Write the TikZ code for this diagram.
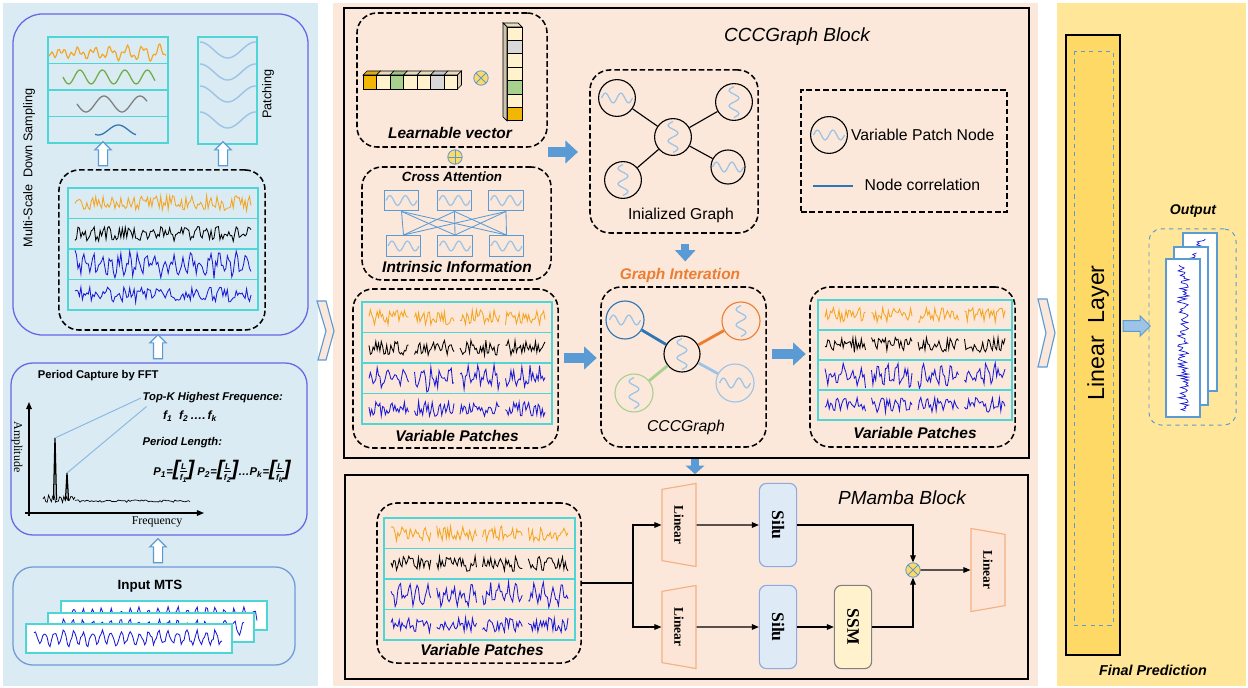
\documentclass[tikz,border=0pt]{standalone}
\usepackage{fontspec}
\setmainfont{Liberation Sans}
\newfontfamily\timesrm{Liberation Serif}
\usetikzlibrary{positioning,arrows.meta,shapes.geometric,shapes.arrows}

\definecolor{leftbg}{HTML}{DAEBF3}
\definecolor{midbg}{HTML}{FBE8DB}
\definecolor{rightbg}{HTML}{FFE699}
\definecolor{layergold}{HTML}{FFD966}
\definecolor{cellgold}{HTML}{F2B705}
\definecolor{cellcream}{HTML}{FFF2CC}
\definecolor{cellgreen}{HTML}{A9D18E}
\definecolor{cellgray}{HTML}{D9D9D9}
\definecolor{arrowblue}{HTML}{5B9BD5}
\definecolor{framecyan}{HTML}{4ED6D6}
\definecolor{boxviolet}{HTML}{6666E6}
\definecolor{boxblue}{HTML}{6F9BD8}
\definecolor{edgeblue}{HTML}{2E75B6}
\definecolor{edgeorange}{HTML}{ED7D31}
\definecolor{edgegreen}{HTML}{A9D18E}
\definecolor{edgelight}{HTML}{9DC3E6}
\definecolor{sigorange}{HTML}{F5A41F}
\definecolor{sigblue}{HTML}{1A1AD6}
\definecolor{sigdown}{HTML}{2E75B6}
\definecolor{siggreen}{HTML}{70AD47}
\definecolor{siggray}{HTML}{7F7F7F}
\definecolor{silufill}{HTML}{DEEBF7}
\definecolor{siluedge}{HTML}{8FAADC}
\definecolor{ssmfill}{HTML}{FFF2CC}
\definecolor{linedge}{HTML}{F4B183}
\definecolor{linfill}{HTML}{FCE4D6}

% stack of four signal rows: x0, y0, x1, y1, patches per row
\newcommand{\sigstack}[5]{%
  \pgfmathsetmacro{\rh}{(#4-#2)/4}%
  \pgfmathsetmacro{\sw}{(#3-#1-8)/#5}%
  \pgfmathtruncatemacro{\ns}{120/#5}%
  \foreach \rw/\col/\kind in {0/sigorange/0,1/black/0,2/sigblue/1,3/sigblue/0}{%
    \draw[rowbox] (#1,{#2+\rw*\rh}) rectangle (#3,{#2+(\rw+1)*\rh});
    \pgfmathsetmacro{\ym}{#2+(\rw+0.5)*\rh}%
    \foreach \s in {1,...,#5}{%
      \pgfmathsetmacro{\sa}{#1+4+(\s-1)*\sw+3}%
      \pgfmathsetmacro{\sb}{#1+4+\s*\sw-3}%
      \draw[\col, line width=0.6pt] plot[domain=\sa:\sb, samples=\ns] (\x,{\ym+0.25*\rh*(0.9*\kind*sin((\x-#1)*40)+rand)});
    }%
  }%
}
% bracketed fraction L / f_i
\newcommand{\brfrac}[1]{{\fontsize{15}{15}\selectfont[}\begin{tabular}{@{}c@{}}\fontsize{6}{6}\selectfont L\\[-2pt]\hline\fontsize{6}{7}\selectfont f\textsubscript{#1}\end{tabular}{\fontsize{15}{15}\selectfont]}}

\tikzset{
  dashbox/.style={draw, line width=1.1pt, dash pattern=on 4pt off 2pt, rounded corners=0.5cm, inner sep=0pt},
  softbox/.style={draw=boxviolet, line width=0.9pt, rounded corners=0.75cm, inner sep=0pt},
  rowbox/.style={draw=framecyan, line width=0.8pt},
  blocktitle/.style={font=\fontsize{13.5}{15}\selectfont\itshape},
  tag/.style={font=\fontsize{11}{13}\selectfont\bfseries\itshape, inner sep=1pt},
  fftlbl/.style={font=\fontsize{8}{9}\selectfont\bfseries\itshape, inner sep=1pt},
  plain/.style={font=\fontsize{11.2}{13}\selectfont, inner sep=1pt},
  fatarrow/.style={draw=arrowblue, line width=7pt, -{Triangle[length=9pt,width=16pt]}},
  hollowup/.style={single arrow, draw=arrowblue, fill=white, line width=0.8pt, rotate=90,
    minimum height=0.6cm, minimum width=0pt, inner xsep=0pt, inner ysep=0.1cm, single arrow head extend=0.09cm},
  hwave/.style={path picture={\draw[edgelight, line width=0.9pt, shift={(path picture bounding box.center)}]
    plot[domain=-1:1, samples=25, smooth] ({11pt*\x},{3.5pt*sin(\x*360)});}},
  vwave/.style={path picture={\draw[edgelight, line width=0.9pt, shift={(path picture bounding box.center)}]
    plot[domain=-1:1, samples=25, smooth] ({3.5pt*sin(\x*360)},{11pt*\x});}},
  gnode/.style={circle, draw, line width=0.8pt, minimum size=0.92cm, inner sep=0pt},
  cabox/.style={draw=arrowblue, line width=0.8pt, minimum width=0.86cm, minimum height=0.52cm, inner sep=0pt, hwave},
  oper/.style={circle, draw=arrowblue, fill=layergold, line width=0.6pt, minimum size=0.36cm, inner sep=0pt},
  otimes/.style={oper, path picture={\draw[arrowblue, line width=0.6pt]
    (path picture bounding box.north west) -- (path picture bounding box.south east)
    (path picture bounding box.north east) -- (path picture bounding box.south west);}},
  oplus/.style={oper, path picture={\draw[arrowblue, line width=0.6pt]
    (path picture bounding box.north) -- (path picture bounding box.south)
    (path picture bounding box.west) -- (path picture bounding box.east);}},
  linear/.style={trapezium, trapezium stretches=true, draw=linedge, fill=linfill, line width=0.8pt,
    trapezium left angle=78, trapezium right angle=78, minimum width=2.08cm, minimum height=0.85cm,
    rotate=-90, font=\timesrm\bfseries\fontsize{9.5}{10}\selectfont},
  unit/.style={rounded corners=5pt, line width=0.8pt, minimum width=2.08cm, minimum height=0.93cm,
    rotate=-90, font=\timesrm\bfseries\fontsize{12.5}{13}\selectfont},
  flow/.style={-{Triangle[length=5pt,width=4pt]}, line width=0.8pt},
}

\begin{document}
\begin{tikzpicture}[x=0.025cm, y=-0.025cm]
\pgfmathsetseed{11}
\useasboundingbox (0,0) rectangle (1248,688);

% panels
\fill[leftbg] (3,3) rectangle (318,686);
\fill[midbg] (333,3) rectangle (1038,686);
\fill[rightbg] (1057,3) rectangle (1246,686);

% ---------------- left panel ----------------
\node[softbox, minimum width=7.375cm, minimum height=8.025cm] (ms) at (160.5,174.5) {};
\node[softbox, rounded corners=0.55cm, minimum width=7.4cm, minimum height=4.3cm] (fft) at (159,449) {};
\node[softbox, draw=boxblue, rounded corners=0.5cm, minimum width=7.05cm, minimum height=2.45cm] (inp) at (154,616) {};

\node[plain, rotate=90, font=\fontsize{9}{10}\selectfont] (mslbl) at (29,168) {Multi-Scale\ \ Down Sampling};

% down-sampled scales
\foreach \rw in {0,...,3}
  \draw[rowbox] (48,{37+\rw*26.5}) rectangle (168,{37+(\rw+1)*26.5});
\draw[sigorange, line width=0.8pt] plot[domain=49:166, samples=80, smooth] (\x,{53+(2+0.04*(\x-49))*sin(\x*22)-3*sin(\x*57)});
\draw[siggreen, line width=0.9pt] plot[domain=63:155, samples=60, smooth] (\x,{77+7*sin((\x-63)*16)});
\draw[siggray, line width=0.9pt] plot[domain=77:147, samples=50, smooth] (\x,{104+8*sin((\x-77)*10)});
\draw[sigdown, line width=0.9pt] plot[domain=95:136, samples=30, smooth] (\x,{130+5*sin((\x-95)*9+60)});

% patching
\draw[rowbox] (198,37) rectangle (257,144);
\foreach \yo in {50,72,94,120}
  \draw[edgelight, line width=1pt] plot[domain=200:256, samples=40, smooth] (\x,{\yo+8*sin((\x-200)*6.5-90)});
\node[plain, rotate=90, font=\fontsize{9}{10}\selectfont] (patlbl) at (268,94) {Patching};

\node[hollowup] (up1) at (103,156) {};
\node[hollowup] (up2) at (223,156) {};

\node[dashbox, minimum width=5.15cm, minimum height=4cm] (msd) at (162,250) {};
\sigstack{68}{188}{258}{310}{1}

% FFT
\node[font=\fontsize{8}{9}\selectfont\bfseries, anchor=west] (fftt) at (33,376) {Period Capture by FFT};
\draw[-{Triangle[length=5pt,width=4pt]}, line width=0.8pt] (25,513) -- (204,513);
\draw[-{Triangle[length=5pt,width=4pt]}, line width=0.8pt] (29,516) -- (29,402);
\node[rotate=-90, font=\timesrm\fontsize{8.5}{10}\selectfont] (amp) at (17,447) {Amplitude};
\node[font=\timesrm\fontsize{8.5}{10}\selectfont] (freq) at (157,522) {Frequency};
\draw[line width=0.5pt] plot[domain=43:75, samples=24] (\x,{499+4*rand});
\draw[line width=0.5pt] plot[domain=75:190, samples=70] (\x,{501+1.2*rand});
\coordinate (pk1) at (55,438);
\coordinate (pk2) at (67,473);
\draw[line width=0.9pt] (53.5,500) -- (pk1) -- (56.5,500);
\draw[line width=0.9pt] (65.5,500) -- (pk2) -- (68.5,500);
\node[fftlbl, anchor=west] (topk) at (141,398) {Top-K Highest Frequence:};
\node[fftlbl, font=\fontsize{8.5}{9}\selectfont\bfseries\itshape] (fks) at (190,416) {f\textsubscript{1}\ \ f\textsubscript{2}\,\ldots.\,f\textsubscript{k}};
\node[fftlbl, anchor=west] (plen) at (141,443) {Period Length:};
\node[fftlbl] (plf) at (222,472) {P\textsubscript{1}=\brfrac{1}\ P\textsubscript{2}=\brfrac{2}\ldots P\textsubscript{k}=\brfrac{k}};
\draw[arrowblue!70, line width=0.7pt] (pk1) -- (topk.west);
\draw[arrowblue!70, line width=0.7pt] (pk2) -- ([xshift=4pt,yshift=-6pt]topk.west);

\node[hollowup] (up3) at (158,349) {};
\node[hollowup] (up4) at (158,553) {};

% input MTS
\node[font=\fontsize{9.5}{11}\selectfont\bfseries] (inpt) at (150,586) {Input MTS};
\foreach \xa/\ya in {61/601, 48/613, 26/624} {
  \draw[framecyan, fill=white, line width=0.8pt] (\xa,\ya) rectangle ++(206,29);
  \pgfmathsetmacro{\sa}{\xa+8}
  \pgfmathsetmacro{\sb}{\xa+196}
  \draw[sigblue, line width=0.6pt] plot[domain=\sa:\sb, samples=130] (\x,{\ya+14+6*sin(\x*38)+3*rand});
}

% chevrons between panels
\draw[arrowblue, fill=midbg, line width=0.8pt] (317,301) -- (326,301) -- (334,331) -- (326,360) -- (318,360) -- (326,331) -- cycle;
\draw[arrowblue, fill=midbg, line width=0.8pt] (1038,299) -- (1047,299) -- (1055,333) -- (1047,367) -- (1038,367) -- (1046,333) -- cycle;

% ---------------- CCCGraph block ----------------
\node[draw, line width=1.2pt, minimum width=17.125cm, minimum height=11.25cm, inner sep=0pt] (ccc) at (686.5,233) {};
\node[blocktitle] (ccct) at (797,37) {CCCGraph Block};

% learnable vector
\node[dashbox, minimum width=4.75cm, minimum height=3.35cm] (lv) at (452,80) {};
\foreach \c [count=\i from 0] in {cellgold,cellcream,cellgreen,cellcream,cellcream,cellgray,cellcream} {
  \pgfmathsetmacro{\cx}{363+13.5*\i}
  \draw[fill=\c, line width=0.5pt] (\cx,75) rectangle ++(13.5,14);
  \draw[fill=\c!80!gray, line width=0.5pt] (\cx,75) -- ++(4,-4) -- ++(13.5,0) -- ++(-4,4) -- cycle;
}
\draw[fill=cellcream!70!gray, line width=0.5pt] (457.5,75) -- ++(4,-4) -- ++(0,14) -- ++(-4,4) -- cycle;
\foreach \c [count=\i from 0] in {cellcream,cellgray,cellcream,cellcream,cellgreen,cellcream,cellgold} {
  \pgfmathsetmacro{\cy}{27+13.4*\i}
  \draw[fill=\c, line width=0.5pt] (507,\cy) rectangle ++(15,13.4);
}
\draw[fill=cellcream!80!gray, line width=0.5pt] (507,27) -- ++(-4,-4) -- ++(15,0) -- ++(4,4) -- cycle;
\draw[fill=cellcream!60!gray, line width=0.5pt] (507,27) -- ++(-4,-4) -- ++(0,94) -- ++(4,4) -- cycle;
\node[otimes] (mul) at (481,78) {};
\node[tag] (lvt) at (450,133) {Learnable vector};
\node[oplus] (add) at (455,157) {};

% intrinsic information
\node[dashbox, minimum width=4.725cm, minimum height=2.825cm] (ii) at (456.5,223.5) {};
\node[tag, font=\fontsize{9.5}{11}\selectfont\bfseries\itshape] (cat) at (452,177) {Cross Attention};
\foreach \n/\xc in {1/401.5, 2/454.5, 3/506}
  \node[cabox] (qa\n) at (\xc,200.5) {};
\foreach \n/\xc in {1/403.5, 2/455, 3/506.5}
  \node[cabox] (kb\n) at (\xc,246) {};
\foreach \i in {1,2,3}
  \foreach \j in {1,2,3}
    \draw[arrowblue, line width=0.6pt] (qa\i.south) -- (kb\j.north);
\node[tag] (iit) at (457,267) {Intrinsic Information};

% initialized graph
\node[dashbox, minimum width=4.2cm, minimum height=4.075cm] (ig) at (674,151.5) {};
\coordinate (fa1) at (0,152);
\draw[fatarrow, shorten >=8pt] (lv.east |- fa1) -- (ig.west |- fa1);
\node[gnode, vwave] (c0) at (673,137) {};
\node[gnode, hwave] (n1) at (617,98) {};
\node[gnode, vwave] (n2) at (734,102) {};
\node[gnode, vwave] (n3) at (623,180) {};
\node[gnode, hwave, minimum size=0.85cm] (n4) at (728,167) {};
\foreach \n in {n1,n2,n3,n4}
  \draw[line width=0.8pt] (c0) -- (\n);
\node[plain] (igt) at (681,215) {Inialized Graph};

% legend
\node[draw, line width=1.1pt, dash pattern=on 4pt off 2pt, minimum width=5.15cm, minimum height=3.05cm] (leg) at (904,151) {};
\node[gnode, hwave] (legn) at (829,135) {};
\node[plain, right=1pt of legn] (legnt) {Variable Patch Node};
\coordinate (lga) at (813,186);
\coordinate (lgb) at (853,186);
\draw[edgeblue, line width=1.6pt] (lga) -- (lgb);
\node[plain, anchor=west] (legct) at (863,185) {Node correlation};

% graph interaction
\node[tag, text=edgeorange] (git) at (680,276) {Graph Interation};
\draw[fatarrow, line width=6pt, -{Triangle[length=8pt,width=14pt]}, shorten <=7pt, shorten >=4pt]
  ([xshift=8pt]ig.south) -- ([xshift=8pt]ig.south |- git.north);

\node[dashbox, minimum width=5.125cm, minimum height=3.975cm] (vp1) at (455.5,368.5) {};
\sigstack{362}{302}{552}{424}{4}
\node[tag] (vp1t) at (457,436) {Variable Patches};

\node[dashbox, minimum width=4.125cm, minimum height=4cm] (gi) at (683.5,367) {};
\node[gnode, vwave, minimum size=0.9cm] (gc) at (682,354) {};
\node[gnode, hwave, draw=edgeblue, minimum size=0.95cm] (g1) at (625,320) {};
\node[gnode, vwave, draw=edgeorange, minimum size=0.95cm] (g2) at (741,321) {};
\node[gnode, vwave, draw=edgegreen, minimum size=0.95cm] (g3) at (634,393) {};
\node[gnode, hwave, draw=edgelight, minimum size=0.95cm] (g4) at (735,383) {};
\draw[edgeblue, line width=2pt] (gc) -- (g1);
\draw[edgeorange, line width=2pt] (gc) -- (g2);
\draw[edgegreen, line width=2pt] (gc) -- (g3);
\draw[edgelight, line width=2pt] (gc) -- (g4);
\node[plain, font=\fontsize{11.2}{13}\selectfont\itshape] (gt) at (686,427) {CCCGraph};

\node[dashbox, minimum width=5.125cm, minimum height=4cm] (vp2) at (912.5,367) {};
\sigstack{818}{300}{1012}{420}{4}
\node[tag] (vp2t) at (915,433) {Variable Patches};

\coordinate (ar1) at (0,358);
\coordinate (ar2) at (0,354);
\draw[fatarrow, shorten <=3.5pt, shorten >=2.5pt] (vp1.east |- ar1) -- (gi.west |- ar1);
\draw[fatarrow, shorten <=3.5pt, shorten >=2.5pt] (gi.east |- ar2) -- (vp2.west |- ar2);

% ---------------- PMamba block ----------------
\node[draw, line width=1.2pt, minimum width=17.075cm, minimum height=5.1cm, inner sep=0pt] (pm) at (686.5,577) {};
\coordinate (ar3) at (695,0);
\draw[fatarrow, line width=5pt, -{Triangle[length=6pt,width=13pt]}] (ccc.south -| ar3) -- (pm.north -| ar3);
\node[blocktitle] (pmt) at (902,498) {PMamba Block};

\node[dashbox, minimum width=5.1cm, minimum height=4cm] (vp3) at (479,583) {};
\sigstack{384}{518}{575}{640}{4}
\node[tag] (vp3t) at (482,650) {Variable Patches};

\node[linear, shape border rotate=180] (lin1) at (679,525) {Linear};
\node[linear, shape border rotate=180] (lin2) at (679,627) {Linear};
\node[unit, draw=siluedge, fill=silufill] (silu1) at (778,525) {Silu};
\node[unit, draw=siluedge, fill=silufill] (silu2) at (778,627) {Silu};
\node[unit, draw=gray, fill=ssmfill] (ssm) at (853,627) {SSM};
\node[otimes] (mul2) at (913,570) {};
\node[linear] (lin3) at (988,570) {Linear};

\coordinate (split) at (633,583);
\draw[line width=0.8pt] (vp3.east) -- (split);
\draw[flow] (split) |- (lin1);
\draw[flow] (split) |- (lin2);
\draw[flow] (lin1) -- (silu1);
\draw[flow] (lin2) -- (silu2);
\draw[flow] (silu2) -- (ssm);
\draw[flow] (silu1) -| (mul2);
\draw[flow] (ssm) -| (mul2);
\draw[flow] (mul2) -- (lin3);

% ---------------- final prediction ----------------
\node[draw, fill=layergold, line width=1.2pt, minimum width=1.35cm, minimum height=15.5cm, inner sep=0pt] (ll) at (1093,345) {};
\draw[arrowblue, dashed, line width=0.7pt] (1074,51) rectangle (1113,625);
\node[rotate=90, font=\fontsize{16.5}{18}\selectfont] (llt) at (1098,333) {Linear\ \ Layer};
\node[single arrow, draw=arrowblue, fill=edgelight, line width=0.7pt, minimum height=0.68cm, minimum width=0pt,
  inner xsep=0pt, inner ysep=0.12cm, single arrow head extend=0.12cm] (oarr) at (1134,326) {};
\node[tag, font=\fontsize{10}{11}\selectfont\bfseries\itshape] (outt) at (1193,211) {Output};
\node[draw=arrowblue, dashed, rounded corners=0.3cm, line width=0.7pt, minimum width=2.175cm, minimum height=4.9cm] (outb) at (1192.5,327) {};
\foreach \xa/\ya in {1183/233, 1174/247, 1166/259} {
  \draw[arrowblue, fill=white, line width=0.8pt] (\xa,\ya) rectangle ++(34,158);
  \pgfmathsetmacro{\sa}{\ya+6}
  \pgfmathsetmacro{\sb}{\ya+152}
  \pgfmathsetmacro{\xm}{\xa+17}
  \draw[sigblue, line width=0.5pt] plot[domain=\sa:\sb, samples=100] ({\xm+6*rand},\x);
}
\node[tag, font=\fontsize{10.2}{11}\selectfont\bfseries\itshape] (fpt) at (1153,670) {Final Prediction};
\end{tikzpicture}
\end{document}
